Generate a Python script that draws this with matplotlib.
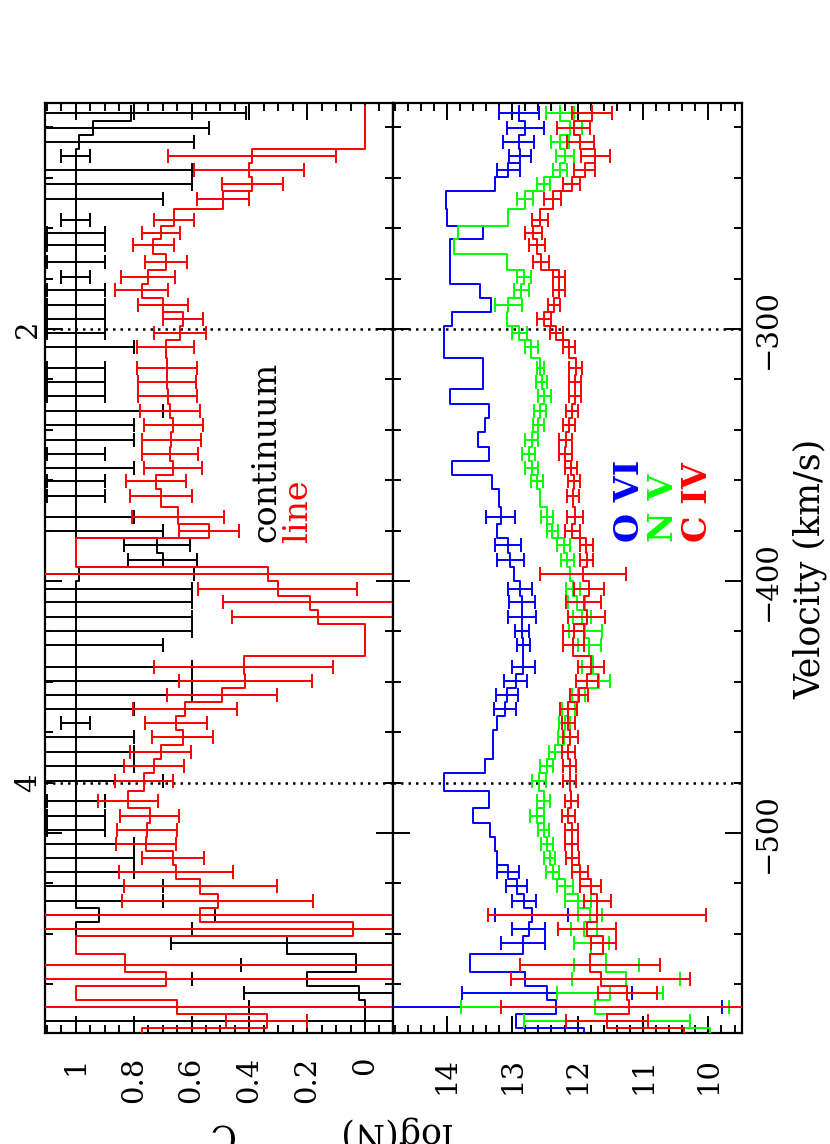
import numpy as np
import matplotlib
matplotlib.use('Agg')
import matplotlib.pyplot as plt
from matplotlib.ticker import MultipleLocator

plt.rcParams['font.family'] = 'DejaVu Serif'

# bin centres (km/s), bottom to top
velocity = [-580.4, -574.8, -569.2, -563.5, -557.8, -552.3, -543.7, -538.1, -532.5, -526.9,
            -521.2, -515.6, -509.9, -504.2, -498.7, -493.1, -487.5, -479.2, -473.6, -467.9,
            -462.1, -456.3, -450.8, -445.1, -439.8, -434.1, -425.6, -420.0, -414.3, -408.5,
            -403.1, -397.2, -391.5, -385.9, -380.3, -374.6, -366.4, -360.5, -355.2, -349.5,
            -343.9, -338.0, -332.7, -326.6, -321.2, -315.6, -307.3, -301.6, -295.9, -290.6,
            -284.7, -279.4, -273.4, -266.8, -261.9, -256.6, -248.3, -242.5, -236.8, -231.2,
            -225.6, -220.2, -214.3]

# covering fraction, continuum
cont_c = [0.0, 0.0, 0.0, 0.02, 0.20, 0.03, 0.27, 1.0, 0.92, 1.0,
          1.0, 1.0, 1.0, 1.0, 1.0, 1.0, 1.0, 1.0, 1.0, 1.0,
          1.0, 1.0, 1.0, 1.0, 1.0, 1.0, 1.0, 1.0, 1.0, 1.0,
          1.0, 0.99, 0.70, 0.72, 1.0, 1.0, 1.0, 1.0, 1.0, 1.0,
          1.0, 1.0, 1.0, 1.0, 1.0, 1.0, 1.0, 1.0, 1.0, 1.0,
          1.0, 1.0, 1.0, 1.0, 1.0, 1.0, 1.0, 1.0, 1.0, 1.0,
          0.99, 0.94, 0.81]
cont_err = [0.0, 1.2, 0.40, 0.40, 0.40, 0.40, 0.40, 0.40, 0.40, 0.30,
            0.30, 0.20, 0.20, 0.20, 0.10, 0.10, 0.10, 0.30, 0.20, 0.20,
            0.20, 0.05, 0.20, 0.40, 0.40, 0.40, 0.30, 0.40, 0.40, 0.40,
            0.40, 0.40, 0.12, 0.115, 0.30, 0.20, 0.10, 0.10, 0.20, 0.10,
            0.20, 0.20, 0.30, 0.10, 0.10, 0.10, 0.20, 0.10, 0.10, 0.10,
            0.10, 0.05, 0.10, 0.10, 0.10, 0.05, 0.30, 0.40, 0.40, 0.05,
            0.40, 0.40, 0.40]

# covering fraction, line
line_c = [0.77, 0.34, 0.65, 1.0, 0.69, 0.83, 1.0, 0.04, 0.57, 0.51,
          0.57, 0.655, 0.663, 0.758, 0.755, 0.744, 0.82, 0.765, 0.73, 0.707,
          0.631, 0.654, 0.623, 0.496, 0.415, 0.42, 0.0, 0.0, 0.161, 0.19,
          0.302, 0.334, 1.0, 1.0, 0.54, 0.646, 0.706, 0.724, 0.663, 0.675,
          0.671, 0.663, 0.675, 0.683, 0.684, 0.686, 0.69, 0.64, 0.63, 0.698,
          0.773, 0.75, 0.689, 0.732, 0.707, 0.66, 0.49, 0.39, 0.40, 0.39,
          0.0, 0.0, 0.0]
line_err = [0.0, 0.14, 1.2, 0.0, 1.2, 1.2, 0.0, 1.2, 1.2, 0.33,
            0.265, 0.197, 0.107, 0.105, 0.103, 0.102, 0.103, 0.10, 0.104, 0.105,
            0.105, 0.108, 0.18, 0.19, 0.23, 0.31, 0.0, 0.0, 0.30, 0.30,
            0.275, 1.2, 0.0, 0.0, 0.105, 0.16, 0.108, 0.104, 0.10, 0.098,
            0.102, 0.103, 0.105, 0.103, 0.10, 0.104, 0.10, 0.09, 0.07, 0.087,
            0.093, 0.093, 0.072, 0.07, 0.066, 0.07, 0.09, 0.105, 0.19, 0.29,
            0.0, 0.0, 0.0]

# column densities
ovi_logn = [11.9, 12.95, 12.33, 12.47, 12.80, 13.65, 12.84, 12.75, 12.70, 12.82,
            12.93, 13.06, 13.23, 13.26, 13.34, 13.60, 13.35, 14.04, 13.41, 13.29,
            13.29, 13.23, 13.11, 13.08, 12.95, 12.83, 12.83, 12.85, 12.85, 12.85,
            12.88, 12.98, 13.03, 13.06, 13.23, 13.18, 13.21, 13.31, 13.92, 13.36,
            13.53, 13.41, 13.35, 13.95, 13.45, 13.45, 14.05, 14.05, 13.92, 13.32,
            13.49, 13.95, 13.96, 13.96, 13.45, 14.0, 14.02, 13.27, 13.06, 12.88,
            12.90, 12.80, 12.90]
ovi_err = [0.0, 0.0, 2.54, 1.3, 0.0, 0.0, 0.34, 0.25, 0.56, 0.18,
           0.16, 0.17, 0.0, 0.0, 0.0, 0.0, 0.0, 0.0, 0.0, 0.0,
           0.0, 0.0, 0.17, 0.17, 0.17, 0.18, 0.10, 0.11, 0.21, 0.20,
           0.18, 0.0, 0.21, 0.20, 0.0, 0.22, 0.0, 0.0, 0.0, 0.0,
           0.0, 0.0, 0.0, 0.0, 0.0, 0.0, 0.0, 0.0, 0.0, 0.0,
           0.0, 0.0, 0.0, 0.0, 0.0, 0.0, 0.0, 0.0, 0.18, 0.17,
           0.235, 0.28, 0.31]

nv_logn = [9.97, 11.55, 11.74, 11.51, 11.26, 11.56, 11.79, 11.90, 11.81, 11.99,
           12.19, 12.38, 12.43, 12.47, 12.52, 12.62, 12.52, 12.59, 12.47, 12.34,
           12.21, 12.20, 12.14, 11.99, 11.68, 11.76, 11.82, 11.88, 11.93, 12.01,
           12.07, 12.11, 12.16, 12.21, 12.39, 12.47, 12.58, 12.62, 12.70, 12.75,
           12.70, 12.60, 12.57, 12.51, 12.55, 12.57, 12.71, 12.89, 13.08, 13.06,
           12.86, 12.82, 13.08, 13.89, 13.83, 13.07, 12.81, 12.52, 12.27, 12.19,
           12.27, 12.12, 12.27]
nv_err = [0.0, 1.27, 2.05, 0.81, 0.82, 0.50, 0.27, 0.20, 0.18, 0.20,
          0.12, 0.10, 0.08, 0.09, 0.08, 0.11, 0.10, 0.11, 0.10, 0.10,
          0.09, 0.09, 0.10, 0.10, 0.17, 0.17, 0.17, 0.25, 0.14, 0.13,
          0.11, 0.0, 0.10, 0.10, 0.085, 0.09, 0.0, 0.09, 0.10, 0.10,
          0.10, 0.09, 0.09, 0.10, 0.08, 0.05, 0.10, 0.12, 0.0, 0.21,
          0.12, 0.11, 0.0, 0.0, 0.0, 0.0, 0.12, 0.10, 0.11, 0.135,
          0.145, 0.19, 0.22]

civ_logn = [10.38, 11.55, 11.22, 11.24, 11.65, 11.81, 11.61, 11.86, 11.70, 11.70,
            11.80, 11.96, 12.08, 12.09, 12.09, 12.14, 12.10, 12.12, 12.12, 12.14,
            12.11, 12.14, 12.14, 11.98, 11.86, 11.80, 12.07, 12.06, 11.86, 11.91,
            11.83, 11.92, 11.86, 11.87, 12.08, 12.04, 12.07, 12.06, 12.10, 12.19,
            12.18, 12.13, 12.09, 12.04, 12.04, 12.03, 12.13, 12.33, 12.51, 12.36,
            12.29, 12.28, 12.56, 12.62, 12.68, 12.58, 12.38, 12.09, 11.89, 11.73,
            11.96, 12.06, 11.78]
civ_err = [0.0, 0.63, 1.95, 0.45, 1.37, 1.07, 0.19, 0.44, 1.67, 0.21,
           0.16, 0.12, 0.10, 0.10, 0.10, 0.10, 0.10, 0.10, 0.10, 0.10,
           0.11, 0.10, 0.13, 0.14, 0.17, 0.20, 0.16, 0.16, 0.28, 0.27,
           0.23, 0.66, 0.10, 0.10, 0.11, 0.12, 0.09, 0.09, 0.09, 0.10,
           0.10, 0.09, 0.09, 0.09, 0.09, 0.10, 0.095, 0.10, 0.11, 0.09,
           0.09, 0.09, 0.12, 0.12, 0.13, 0.12, 0.13, 0.13, 0.16, 0.22,
           0.21, 0.25, 0.31]

c_ticks = [0, 0.2, 0.4, 0.6, 0.8, 1.0]
c_labels = ['0', '0.2', '0.4', '0.6', '0.8', '1']
n_ticks = [10, 11, 12, 13, 14]
v_ticks = [-500, -400, -300]
v_labels = ['\u2212500', '\u2212400', '\u2212300']
comp_vel = [-480, -300]
comp_names = ['4', '2']

RED, GREEN, BLUE = '#ff0000', '#00ff00', '#0000ff'
LW = 1.4


def edges(v):
    v = np.asarray(v, dtype=float)
    mid = (v[1:] + v[:-1]) / 2
    return np.concatenate([[2 * v[0] - mid[0]], mid, [2 * v[-1] - mid[-1]]])


def hist_rot(ax, vals, err, color):
    # step histogram drawn against velocity on the vertical axis
    e = edges(velocity)
    ys = np.repeat(e, 2)[1:-1]
    xs = np.repeat(np.asarray(vals, dtype=float), 2)
    ax.plot(xs, ys, color=color, lw=LW, zorder=3)
    vals = np.asarray(vals, dtype=float)
    err = np.asarray(err, dtype=float)
    v = np.asarray(velocity, dtype=float)
    m = err > 0
    ax.errorbar(vals[m], v[m], xerr=err[m], fmt='none', ecolor=color,
                elinewidth=LW, capsize=5, capthick=LW, zorder=3)


fig = plt.figure(figsize=(8.3, 11.44), dpi=100)
W, H = 830.0, 1144.0
x0, xm, x1 = 45.0, 393.3, 741.7
ytop, ybot = 103.0, 1033.0
ax1 = fig.add_axes([x0 / W, 1 - ybot / H, (xm - x0) / W, (ybot - ytop) / H])
ax2 = fig.add_axes([xm / W, 1 - ybot / H, (x1 - xm) / W, (ybot - ytop) / H])

hist_rot(ax1, cont_c, cont_err, 'black')
hist_rot(ax1, line_c, line_err, RED)

hist_rot(ax2, ovi_logn, ovi_err, BLUE)
hist_rot(ax2, nv_logn, nv_err, GREEN)
hist_rot(ax2, civ_logn, civ_err, RED)

ax1.set_xlim(1.107, -0.098)
ax2.set_xlim(14.82, 9.49)

for ax in (ax1, ax2):
    ax.set_ylim(-579.4, -210.3)
    for v in comp_vel:
        ax.axhline(v, color='black', ls=(0, (1, 2.0)), lw=1.8, zorder=1)
    ax.yaxis.set_minor_locator(MultipleLocator(20))
    ax.set_yticks(v_ticks)
    ax.tick_params(which='both', direction='in', top=True, bottom=True,
                   left=True, right=True, width=1.4)
    ax.tick_params(which='major', length=12)
    ax.tick_params(which='minor', length=5.5)
    for s in ax.spines.values():
        s.set_linewidth(1.6)

ax1.set_xticks(c_ticks)
ax1.set_xticklabels(c_labels, rotation=90, fontsize=21)
ax1.xaxis.set_minor_locator(MultipleLocator(0.05))
ax1.set_yticklabels([])

ax2.set_xticks(n_ticks)
ax2.set_xticklabels([str(t) for t in n_ticks], rotation=90, fontsize=21)
ax2.xaxis.set_minor_locator(MultipleLocator(0.2))
ax2.tick_params(axis='y', labelleft=False, labelright=True, pad=9)
ax2.set_yticklabels(v_labels, rotation=90, va='center', fontsize=21)
ax1.tick_params(axis='x', pad=17)
ax2.tick_params(axis='x', pad=17)

# component markers along the left edge
for v, name in zip(comp_vel, comp_names):
    ax1.annotate(name, xy=(0, v), xycoords=('axes fraction', 'data'),
                 xytext=(-17, 0), textcoords='offset pixels',
                 rotation=90, ha='center', va='center', fontsize=21)

# in-panel labels
ax1.text(0.34, -384.4, 'continuum', rotation=90, ha='center', va='bottom',
         fontsize=24, color='black')
ax1.text(0.232, -384.4, 'line', rotation=90, ha='center', va='bottom',
         fontsize=24, color=RED)
ax2.text(11.20, -384.4, 'O VI', rotation=90, ha='center', va='bottom',
         fontsize=24, fontweight='bold', color=BLUE)
ax2.text(10.69, -384.4, 'N V', rotation=90, ha='center', va='bottom',
         fontsize=24, fontweight='bold', color=GREEN)
ax2.text(10.17, -384.4, 'C IV', rotation=90, ha='center', va='bottom',
         fontsize=24, fontweight='bold', color=RED)

# axis titles
fig.text(810 / W, 1 - 569 / H, 'Velocity (km/s)', rotation=90,
         ha='center', va='center', fontsize=25)
fig.text(220 / W, 1 - 1124 / H, 'C', rotation=180, rotation_mode='anchor',
         ha='center', va='baseline', fontsize=25)
fig.text(395 / W, 1 - 1124 / H, 'log(N)', rotation=180, rotation_mode='anchor',
         ha='center', va='baseline', fontsize=25)

fig.savefig('out.png', dpi=100)
